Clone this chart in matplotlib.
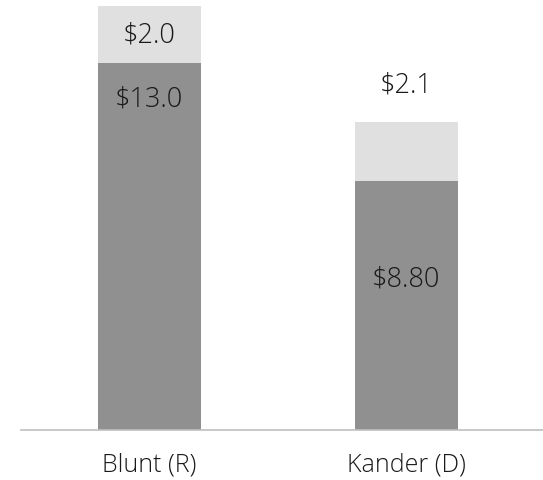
import matplotlib.pyplot as plt
import numpy as np

plt.rcParams['font.family'] = ['Open Sans', 'DejaVu Sans']

# data
candidates = ['Blunt (R)', 'Kander (D)']
base = [13.0, 8.8]
extra = [2.0, 2.1]
base_labels = ['$13.0', '$8.80']
extra_labels = ['$2.0', '$2.1']

dark = '#909090'
light = '#e0e0e0'
txt = '#1a1a1a'
fs = 19.5

fig = plt.figure(figsize=(5.43, 4.81), dpi=100)
ax = fig.add_axes([0.038, 0.1046, 0.962, 0.8954])

x = np.arange(len(candidates))
w = 0.40
ax.bar(x, base, width=w, color=dark)
ax.bar(x, extra, width=w, bottom=base, color=light)

ax.set_xlim(-0.501, 1.531)
ax.set_ylim(0, 15.25)

# labels
ax.text(x[0], base[0] - 1.26, base_labels[0], ha='center', va='center',
        fontsize=fs, fontweight='light', color=txt)
ax.text(x[0], base[0] + extra[0] / 2, extra_labels[0], ha='center', va='center',
        fontsize=fs, fontweight='light', color=txt)
ax.text(x[1], base[1] * 0.61, base_labels[1], ha='center', va='center',
        fontsize=fs, fontweight='light', color=txt)
ax.text(x[1], base[1] + extra[1] + 1.34, extra_labels[1], ha='center', va='center',
        fontsize=fs, fontweight='light', color=txt)

for s in ['top', 'right', 'left']:
    ax.spines[s].set_visible(False)
ax.spines['bottom'].set_color('#bfbfbf')
ax.spines['bottom'].set_linewidth(1.2)
ax.set_yticks([])
ax.set_xticks(x)
ax.set_xticklabels(candidates, fontsize=18, fontweight='light', color=txt)
ax.tick_params(axis='x', length=0, pad=16)

plt.savefig('out.png', dpi=100)
